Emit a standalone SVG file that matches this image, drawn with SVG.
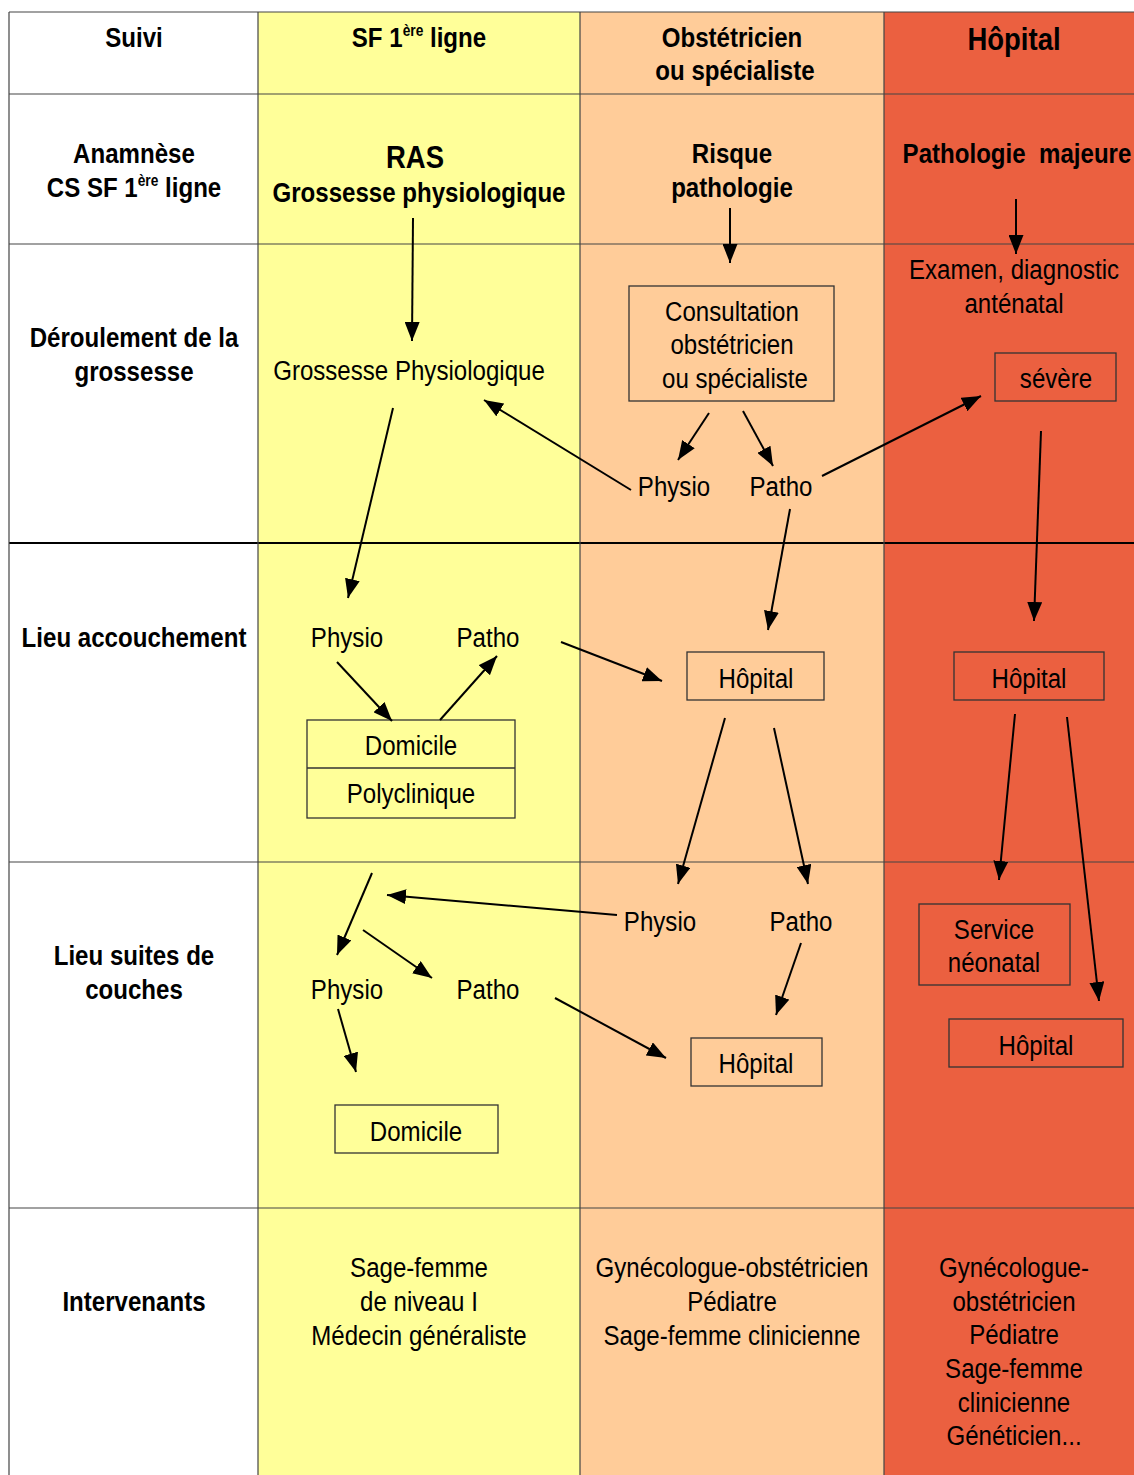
<svg xmlns="http://www.w3.org/2000/svg" width="1134" height="1475" viewBox="0 0 1134 1475">
<style>
text{font-family:"Liberation Sans","Arial",sans-serif;font-size:28px;fill:#000;text-anchor:middle;transform-box:fill-box;transform-origin:50% 50%;transform:scaleX(0.86)}
.b{font-weight:bold}
text.big{font-size:32px}
tspan.sup{font-size:16px}
.box{fill:none;stroke:#333;stroke-width:1.3}
.grid{stroke:#444;stroke-width:1.2;fill:none}
.conn line{stroke:#000;stroke-width:2;marker-end:url(#ah)}
</style>
<defs>
<marker id="ah" markerUnits="userSpaceOnUse" markerWidth="19" markerHeight="15" refX="19" refY="7.5" orient="auto">
<path d="M0,0 L19,7.5 L0,15 z" fill="#000"/>
</marker>
</defs>
<g id="background">
<rect x="0" y="0" width="1134" height="1475" fill="#fff"/>
<rect x="258" y="12" width="322" height="1463" fill="#FFFF99"/>
<rect x="580" y="12" width="304" height="1463" fill="#FFCC99"/>
<rect x="884" y="12" width="250" height="1463" fill="#EB6040"/>
</g>
<g id="grid">
<line class="grid" x1="9" y1="12" x2="1134" y2="12"/>
<line class="grid" x1="9" y1="94" x2="1134" y2="94"/>
<line class="grid" x1="9" y1="244" x2="1134" y2="244"/>
<line x1="9" y1="543" x2="1134" y2="543" stroke="#000" stroke-width="2.2"/>
<line class="grid" x1="9" y1="862" x2="1134" y2="862"/>
<line class="grid" x1="9" y1="1208" x2="1134" y2="1208"/>
<line class="grid" x1="9" y1="12" x2="9" y2="1475"/>
<line class="grid" x1="258" y1="12" x2="258" y2="1475"/>
<line class="grid" x1="580" y1="12" x2="580" y2="1475"/>
<line class="grid" x1="884" y1="12" x2="884" y2="1475"/>
</g>
<g id="headers">
<text class="b" x="134" y="47">Suivi</text>
<text class="b" x="419" y="47">SF 1<tspan class="sup" dy="-11">ère</tspan><tspan dy="11"> ligne</tspan></text>
<text class="b" x="732" y="47">Obstétricien</text>
<text class="b" x="735" y="80">ou spécialiste</text>
<text class="b big" x="1014" y="50">Hôpital</text>
</g>
<g id="row-labels">
<text class="b" x="134" y="163">Anamnèse</text>
<text class="b" x="134" y="197">CS SF 1<tspan class="sup" dy="-11">ère</tspan><tspan dy="11"> ligne</tspan></text>
<text class="b" x="134" y="347">Déroulement de la</text>
<text class="b" x="134" y="381">grossesse</text>
<text class="b" x="134" y="647">Lieu accouchement</text>
<text class="b" x="134" y="965">Lieu suites de</text>
<text class="b" x="134" y="999">couches</text>
<text class="b" x="134" y="1311">Intervenants</text>
</g>
<g id="anamnese">
<text class="b big" x="415" y="168">RAS</text>
<text class="b" x="419" y="202">Grossesse physiologique</text>
<text class="b" x="732" y="163">Risque</text>
<text class="b" x="732" y="197">pathologie</text>
<text class="b" x="1017" y="163" xml:space="preserve">Pathologie  majeure</text>
</g>
<g id="n-gross-physio"><text x="409" y="380">Grossesse Physiologique</text></g>
<g id="n-consultation">
<rect class="box" x="629" y="286" width="205" height="115"/>
<text x="732" y="321">Consultation</text>
<text x="732" y="354">obstétricien</text>
<text x="735" y="388">ou spécialiste</text>
</g>
<g id="n-examen">
<text x="1014" y="279">Examen, diagnostic</text>
<text x="1014" y="313">anténatal</text>
</g>
<g id="n-severe">
<rect class="box" x="995" y="353" width="121" height="48"/>
<text x="1056" y="388">sévère</text>
</g>
<g id="n-physio1"><text x="674" y="496">Physio</text></g>
<g id="n-patho1"><text x="781" y="496">Patho</text></g>
<g id="n-physio2"><text x="347" y="647">Physio</text></g>
<g id="n-patho2"><text x="488" y="647">Patho</text></g>
<g id="n-domicile-poly">
<rect class="box" x="307" y="720" width="208" height="98"/>
<line class="box" x1="307" y1="768" x2="515" y2="768"/>
<text x="411" y="755">Domicile</text>
<text x="411" y="803">Polyclinique</text>
</g>
<g id="n-hopital1">
<rect class="box" x="687" y="652" width="137" height="48"/>
<text x="756" y="688">Hôpital</text>
</g>
<g id="n-hopital2">
<rect class="box" x="954" y="652" width="150" height="48"/>
<text x="1029" y="688">Hôpital</text>
</g>
<g id="n-physio3"><text x="660" y="931">Physio</text></g>
<g id="n-patho3"><text x="801" y="931">Patho</text></g>
<g id="n-physio4"><text x="347" y="999">Physio</text></g>
<g id="n-patho4"><text x="488" y="999">Patho</text></g>
<g id="n-domicile2">
<rect class="box" x="335" y="1105" width="163" height="48"/>
<text x="416" y="1141">Domicile</text>
</g>
<g id="n-hopital3">
<rect class="box" x="691" y="1038" width="131" height="48"/>
<text x="756" y="1073">Hôpital</text>
</g>
<g id="n-neonatal">
<rect class="box" x="919" y="904" width="151" height="81"/>
<text x="994" y="939">Service</text>
<text x="994" y="972">néonatal</text>
</g>
<g id="n-hopital4">
<rect class="box" x="949" y="1019" width="174" height="48"/>
<text x="1036" y="1055">Hôpital</text>
</g>
<g id="intervenants">
<text x="419" y="1277">Sage-femme</text>
<text x="419" y="1311">de niveau I</text>
<text x="419" y="1345">Médecin généraliste</text>
<text x="732" y="1277">Gynécologue-obstétricien</text>
<text x="732" y="1311">Pédiatre</text>
<text x="732" y="1345">Sage-femme clinicienne</text>
<text x="1014" y="1277">Gynécologue-</text>
<text x="1014" y="1311">obstétricien</text>
<text x="1014" y="1344">Pédiatre</text>
<text x="1014" y="1378">Sage-femme</text>
<text x="1014" y="1412">clinicienne</text>
<text x="1014" y="1445">Généticien...</text>
</g>
<g id="connectors" class="conn">
<line x1="413" y1="218" x2="412" y2="341"/>
<line x1="730" y1="208" x2="730" y2="263"/>
<line x1="1016" y1="199" x2="1016" y2="254"/>
<line x1="393" y1="408" x2="348" y2="598"/>
<line x1="631" y1="490" x2="484" y2="400"/>
<line x1="709" y1="413" x2="678" y2="460"/>
<line x1="743" y1="411" x2="773" y2="466"/>
<line x1="822" y1="476" x2="981" y2="396"/>
<line x1="790" y1="509" x2="768" y2="630"/>
<line x1="1041" y1="431" x2="1034" y2="621"/>
<line x1="337" y1="662" x2="392" y2="721"/>
<line x1="440" y1="720" x2="497" y2="656"/>
<line x1="561" y1="642" x2="662" y2="681"/>
<line x1="725" y1="718" x2="678" y2="884"/>
<line x1="774" y1="728" x2="808" y2="884"/>
<line x1="1015" y1="714" x2="999" y2="880"/>
<line x1="1067" y1="717" x2="1099" y2="1001"/>
<line x1="372" y1="873" x2="337" y2="955"/>
<line x1="617" y1="915" x2="387" y2="895"/>
<line x1="363" y1="930" x2="432" y2="978"/>
<line x1="338" y1="1009" x2="356" y2="1072"/>
<line x1="555" y1="998" x2="666" y2="1058"/>
<line x1="801" y1="943" x2="776" y2="1015"/>
</g>
</svg>
